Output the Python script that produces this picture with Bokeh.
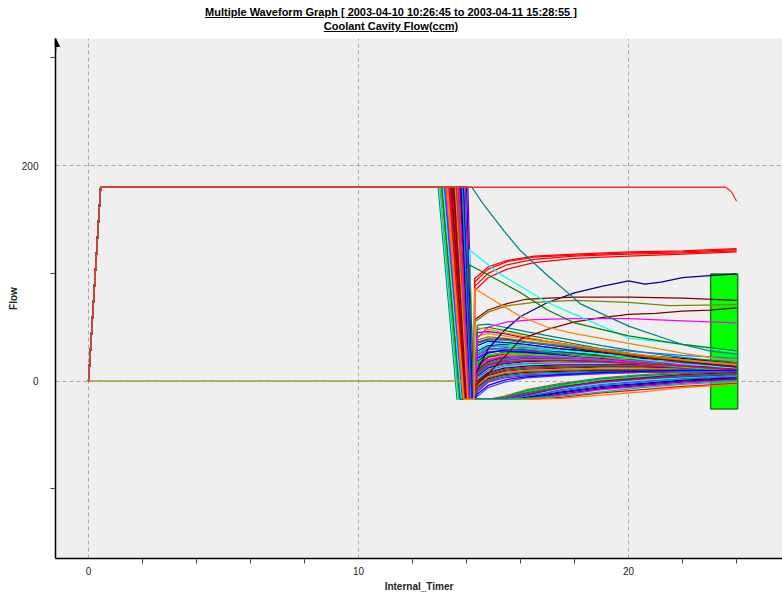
from bokeh.plotting import figure
from bokeh.models import ColumnDataSource, FixedTicker, Range1d, Div, Arrow, NormalHead
from bokeh.layouts import column
from bokeh.embed import file_html
from bokeh.resources import INLINE

# ---------------- texts ----------------
title_line1 = "Multiple Waveform Graph [ 2003-04-10 10:26:45 to 2003-04-11 15:28:55 ]"
title_line2 = "Coolant Cavity Flow(ccm)"
x_label = "Internal_Timer"
y_label = "Flow"

# ---------------- ticks ----------------
x_major = [0, 10, 20]
x_minor = [2, 4, 6, 8, 12, 14, 16, 18, 22, 24]
y_major = [0, 200]
y_minor = [-100, 100, 300]

# ---------------- shared waveform shape ----------------
ramp_x = [0, 0.45]
ramp_y = [0, 180]
plateau = 180
floor = -17
rise_x = 14.28

# sample times after the drop for the bundle of waveforms
T = [14.4, 14.8, 15.4, 16.2, 17.5, 19, 20.5, 22, 24]

# bundle waveforms: values at T
bundle_vals = [
    [28, 33, 34, 33, 30, 26, 22, 19, 15],
    [25, 31, 33, 32, 29, 25, 21, 18, 14],
    [22, 29, 31, 31, 28, 24, 21, 17, 13],
    [20, 27, 30, 30, 28, 25, 22, 19, 16],
    [18, 26, 29, 29, 27, 24, 21, 18, 15],
    [16, 24, 27, 28, 26, 23, 20, 17, 12],
    [15, 23, 26, 27, 26, 24, 22, 20, 18],
    [14, 22, 25, 26, 25, 22, 19, 16, 13],
    [12, 20, 24, 25, 24, 22, 20, 18, 16],
    [11, 19, 23, 24, 23, 21, 18, 15, 11],
    [10, 18, 22, 23, 22, 21, 19, 17, 14],
    [9, 17, 21, 22, 22, 20, 18, 16, 14],
    [8, 16, 20, 21, 21, 20, 18, 15, 12],
    [7, 15, 19, 21, 21, 20, 19, 17, 15],
    [6, 14, 18, 20, 20, 19, 17, 15, 13],
    [5, 13, 17, 19, 19, 18, 17, 16, 14],
    [4, 12, 16, 18, 19, 18, 17, 15, 12],
    [3, 11, 15, 17, 18, 17, 16, 14, 11],
    [2, 10, 14, 16, 17, 17, 16, 15, 13],
    [1, 9, 13, 15, 16, 16, 15, 14, 12],
    [0, 8, 12, 14, 15, 15, 15, 14, 13],
    [-1, 7, 11, 13, 14, 14, 14, 13, 11],
    [-2, 6, 10, 12, 13, 14, 13, 12, 10],
    [-3, 5, 9, 11, 12, 13, 13, 12, 11],
    [-4, 4, 8, 10, 11, 12, 12, 11, 10],
    [-5, 3, 7, 9, 10, 11, 11, 11, 10],
    [-6, 2, 6, 8, 9, 10, 10, 10, 9],
    [-8, 1, 5, 7, 8, 9, 9, 9, 8],
    [-9, 0, 4, 6, 7, 8, 9, 9, 9],
    [-10, -1, 3, 5, 6, 7, 8, 8, 8],
    [26, 32, 32, 30, 26, 22, 18, 14, 10],
    [24, 30, 30, 28, 24, 20, 16, 12, 8],
    [21, 27, 28, 27, 24, 20, 17, 14, 11],
    [17, 24, 26, 25, 23, 20, 16, 13, 9],
    [13, 20, 23, 23, 22, 20, 17, 14, 10],
    [30, 35, 35, 33, 29, 25, 20, 16, 12],
    [33, 37, 36, 34, 30, 27, 24, 21, 17],
    [8, 15, 18, 19, 19, 18, 16, 14, 11],
    [48, 50, 47, 43, 37, 30, 24, 20, 15],
    [45, 46, 44, 40, 35, 29, 24, 19, 14],
    [42, 44, 42, 39, 34, 28, 23, 19, 15],
    [38, 41, 40, 37, 33, 28, 23, 19, 16],
    [36, 39, 39, 36, 32, 27, 22, 18, 13],
    [52, 53, 50, 46, 40, 33, 27, 22, 17],
    [35, 38, 38, 36, 33, 30, 27, 24, 21],
    [-17, -17, -17, -15, -8, -3, 0, 2, 4],
    [-17, -17, -17, -14, -6, -1, 2, 4, 6],
    [-17, -17, -16, -12, -5, 0, 3, 5, 7],
    [-17, -17, -17, -16, -11, -6, -3, 0, 2],
    [-17, -17, -15, -10, -4, 1, 4, 6, 8],
    [-17, -17, -17, -17, -13, -8, -5, -2, 1],
    [-17, -17, -16, -13, -7, -2, 1, 3, 5],
    [-17, -17, -17, -15, -10, -5, -2, 1, 3],
    [-17, -17, -17, -17, -15, -11, -8, -5, -2],
    [-17, -17, -16, -11, -5, -1, 2, 4, 6],
    [-17, -17, -17, -16, -12, -7, -4, -1, 2],
    [-17, -17, -17, -17, -16, -13, -10, -6, -3],
    [-17, -17, -14, -8, -2, 3, 6, 8, 9],
    [-17, -17, -17, -13, -6, 0, 3, 6, 8],
    [-17, -17, -15, -9, -3, 2, 5, 7, 9],
    [-17, -17, -17, -14, -9, -4, -1, 2, 5],
    [-17, -17, -16, -12, -6, -1, 2, 5, 7],
    [-17, -17, -17, -16, -14, -10, -6, -3, 0],
    [-14, -6, -1, 3, 5, 7, 8, 9, 10],
    [-12, -4, 1, 4, 6, 8, 9, 10, 10],
]
drop_start = [13.45, 13.60, 13.30, 13.75, 13.50, 13.20, 13.65, 13.40, 13.85, 13.55,
              13.10, 13.70, 13.35, 13.95, 13.48, 13.62, 13.25, 13.78, 13.52, 13.15,
              13.68, 13.42, 13.90, 13.58, 13.05, 13.72, 13.38, 13.80, 13.56, 13.28,
              13.66, 13.44, 14.00, 13.60, 13.22, 13.74, 13.50, 13.82, 12.95, 13.32,
              13.64, 13.46, 13.76, 13.00, 13.54, 13.36, 13.70, 13.18, 13.88, 13.47,
              13.62, 13.12, 13.79, 13.40, 13.58, 14.05, 13.26, 13.53, 13.67, 13.33,
              13.84, 13.43, 13.71, 13.57, 13.49]
drop_end = [13.95, 14.05, 13.90, 14.10, 14.00, 13.85, 14.05, 13.95, 14.15, 14.00,
            13.80, 14.10, 13.90, 14.20, 13.98, 14.06, 13.88, 14.12, 14.02, 13.82,
            14.08, 13.96, 14.18, 14.04, 13.75, 14.10, 13.92, 14.14, 14.03, 13.89,
            14.07, 13.97, 14.22, 14.05, 13.86, 14.11, 14.01, 14.15, 13.65, 13.90,
            14.06, 13.98, 14.12, 13.70, 14.02, 13.91, 14.09, 13.84, 14.17, 13.99,
            14.06, 13.80, 14.13, 13.94, 14.04, 14.25, 13.88, 14.01, 14.08, 13.91,
            14.16, 13.97, 14.10, 14.04, 14.00]

# individual waveforms (times and values after the drop)
red_rise_x = [14.3, 14.8, 15.5, 16.5, 18, 20, 22, 24]
red_rise_1 = [84, 96, 104, 110, 114, 116, 118, 120]
red_rise_2 = [88, 100, 108, 113, 116, 118, 119, 121]
red_rise_3 = [92, 104, 111, 115, 117, 119, 120, 122]
red_rise_4 = [95, 106, 112, 116, 118, 120, 121, 123]

navy_x = [14.3, 14.8, 15.4, 16, 17, 18, 19, 20, 20.6, 21.2, 22, 23, 24]
navy_y = [5, 30, 47, 60, 73, 82, 88, 93, 90, 92, 96, 98, 99.5]

maroon1_x = [14.3, 14.8, 15.5, 16.2, 17, 18, 20, 22, 24]
maroon1_y = [57, 66, 72, 76, 77, 78, 78, 77, 75]

olive1_x = [14.3, 14.8, 15.5, 16.5, 18, 20, 21.5, 24]
olive1_y = [55, 64, 70, 73, 75, 73, 70, 71]

maroon2_x = [14.3, 15.0, 15.5, 16, 17, 18, 19, 20, 21, 22, 23, 24]
maroon2_y = [-5, 12, 25, 39, 48, 55, 59, 62, 63, 65, 66, 68]

magenta_x = [14.4, 14.8, 15.5, 16.5, 18, 20, 22, 24]
magenta_y = [40, 50, 55, 57, 58, 58, 56, 54]

cyan_x = [14.1, 14.6, 15.2, 16, 17, 18, 20, 22, 24]
cyan_y = [122, 112, 100, 88, 73, 62, 40, 34, 27]

green_x = [14.1, 15, 16, 17, 18, 20, 22, 24]
green_y = [108, 96, 82, 66, 54, 42, 34, 28]

orange_x = [14.3, 15, 16, 17, 18, 20, 22, 24]
orange_y = [86, 75, 60, 50, 44, 35, 26, 18]
orange2_y = [50, 47, 42, 37, 33, 26, 20, 15]

teal_x = [14.2, 14.6, 15.4, 16, 17, 17.8, 18.2, 20, 22, 23, 24]
teal_y = [180, 165, 139, 121, 98, 81, 72, 51, 34, 28, 25]

red_top_x = [23.6, 23.8, 24.0]
red_top_y = [180, 176, 167]

zero_x = [0, 13.85]
zero_y = [0, 0]

# alarm band (green box)
box_left = [23.04]
box_right = [24.04]
box_bottom = [-26]
box_top = [99.5]

# ---------------- styles ----------------
palette = ["#0000ff", "#00ff00", "#ff00ff", "#00ffff", "#000080", "#ff0000", "#008000",
           "#800080", "#ff8000", "#808000", "#800000", "#008080", "#0080ff", "#c000c0",
           "#00c080", "#4040ff"]

FONT = "Liberation Sans"

p = figure(width=782, height=562, output_backend="svg", toolbar_location=None,
           x_range=Range1d(-1.222, 25.70), y_range=Range1d(-164.7, 318.1),
           min_border_left=55, min_border_right=0, min_border_top=6, min_border_bottom=0)
p.background_fill_color = "#efefef"
p.border_fill_color = "white"
p.outline_line_color = None

# box drawn first so waveforms show over it
p.quad(left=box_left, right=box_right, bottom=box_bottom, top=box_top,
       fill_color="#00ff00", line_color="#1f7a1f", line_width=1.5)

xs, ys, cols = [], [], []
for i, vals in enumerate(bundle_vals):
    xs.append(ramp_x + [drop_start[i], drop_end[i], rise_x] + T)
    ys.append(ramp_y + [plateau, floor, floor] + vals)
    cols.append(palette[i % len(palette)])

specials = [
    (red_rise_x, red_rise_1, 13.60, 14.05, "#ff0000"),
    (red_rise_x, red_rise_2, 13.48, 13.99, "#ff0000"),
    (red_rise_x, red_rise_3, 13.72, 14.10, "#ff0000"),
    (red_rise_x, red_rise_4, 13.34, 13.92, "#ff0000"),
    (navy_x, navy_y, 13.56, 14.03, "#000080"),
    (maroon1_x, maroon1_y, 13.44, 13.97, "#800000"),
    (olive1_x, olive1_y, 13.66, 14.07, "#808000"),
    (maroon2_x, maroon2_y, 13.52, 14.02, "#800000"),
    (magenta_x, magenta_y, 13.70, 14.08, "#ff00ff"),
    (cyan_x, cyan_y, 12.98, 13.68, "#00ffff"),
    (green_x, green_y, 13.08, 13.76, "#008000"),
    (orange_x, orange_y, 13.30, 13.90, "#ff8000"),
    (orange_x, orange2_y, 13.58, 14.04, "#ff8000"),
]
for sx, sy, ds, de, c in specials:
    xs.append(ramp_x + [ds, de, rise_x] + sx)
    ys.append(ramp_y + [plateau, floor, floor] + sy)
    cols.append(c)

# teal: no drop, decays straight from the plateau
xs.append(ramp_x + teal_x)
ys.append(ramp_y + teal_y)
cols.append("#008080")

src = ColumnDataSource(dict(xs=xs, ys=ys, color=cols))
p.multi_line(xs="xs", ys="ys", line_color="color", line_width=1.25, source=src)

p.line(zero_x, zero_y, line_color="#a0a030", line_width=1.5)
p.line(ramp_x + red_top_x, ramp_y + red_top_y, line_color="#f03030", line_width=1.3)

# ---------------- axes ----------------
for ax, major, minor in ((p.xaxis[0], x_major, x_minor), (p.yaxis[0], y_major, y_minor)):
    ax.ticker = FixedTicker(ticks=major, minor_ticks=minor)
    ax.axis_line_color = "black"
    ax.axis_line_width = 1.5
    ax.major_tick_out = 0
    ax.major_tick_in = 0
    ax.minor_tick_out = 5
    ax.minor_tick_in = 0
    ax.minor_tick_line_color = "#444444"
    ax.major_label_text_font = FONT
    ax.major_label_text_font_size = "10px"
    ax.major_label_text_color = "#222222"
    ax.axis_label_text_font = FONT
    ax.axis_label_text_font_size = "10px"
    ax.axis_label_text_font_style = "bold"
    ax.axis_label_text_color = "#222222"

p.xaxis.axis_label = x_label
p.yaxis.axis_label = y_label
p.xaxis.major_label_standoff = 3
p.xaxis.axis_label_standoff = 3
p.yaxis.major_label_standoff = 12
p.yaxis.axis_label_standoff = 0

for g in (p.xgrid[0], p.ygrid[0]):
    g.grid_line_color = "#a8a8a8"
    g.grid_line_dash = "4 3"
    g.grid_line_width = 1

p.add_layout(Arrow(end=NormalHead(size=8, fill_color="black", line_color="black"),
                   x_start=p.x_range.start, y_start=p.y_range.end - 12,
                   x_end=p.x_range.start, y_end=p.y_range.end,
                   line_color="black", line_width=1.5))

title_html = (
    '<div style="width:782px;padding-top:5px;text-align:center;'
    'font-family:\'Liberation Sans\',Arial,sans-serif;'
    'font-weight:bold;font-size:11px;line-height:14px;color:#000;">'
    f'<u>{title_line1}</u><br><u>{title_line2}</u></div>'
)
div = Div(text=title_html, width=782, height=32, margin=(0, 0, 0, 0))
p.margin = (0, 0, 0, 0)

layout = column(div, p, spacing=0, margin=(0, 0, 0, 0))
open("out.html", "w").write(file_html(layout, INLINE))
